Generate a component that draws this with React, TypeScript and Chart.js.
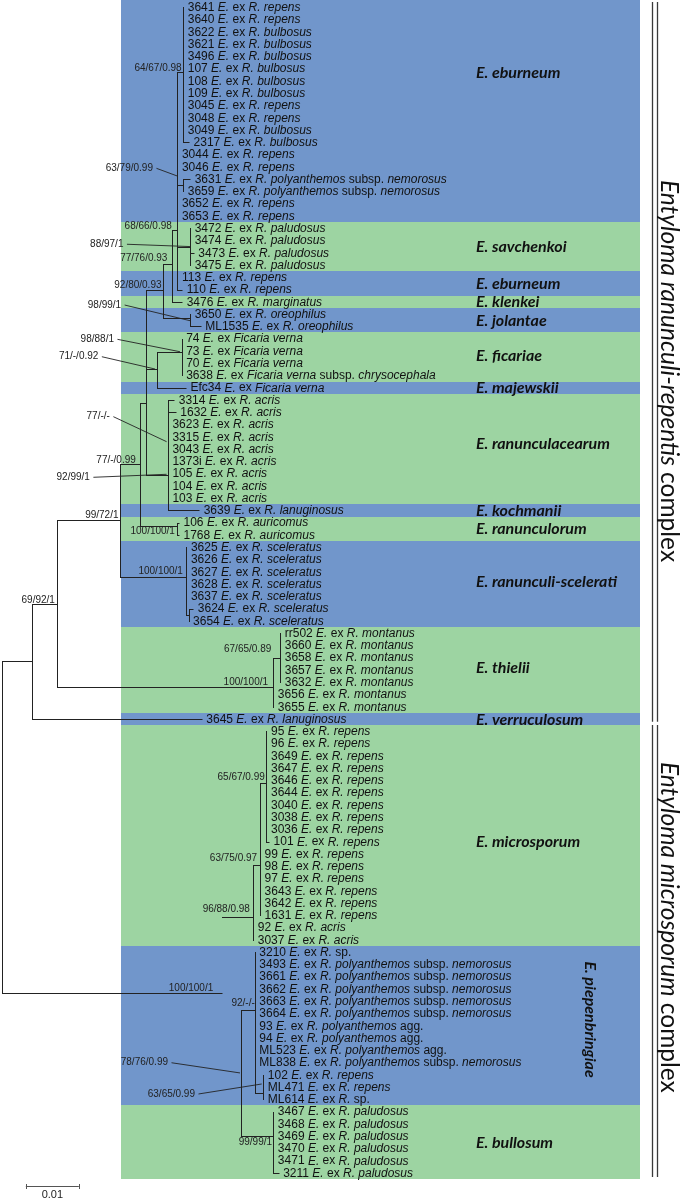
import React, { useEffect, useRef } from "react";
import { Chart, registerables } from "chart.js";
Chart.register(...registerables);

// ---------------- DATA ----------------
// leaves, top to bottom (row index = position in list)
const leafIds = [
  "3641", "3640", "3622", "3621", "3496", "107", "108", "109", "3045", "3048", "3049", "2317", "3044", "3046", "3631", "3659", "3652", "3653",
  "3472", "3474", "3473", "3475", "113", "110", "3476", "3650", "ML1535", "74", "73", "70", "3638", "Efc34",
  "3314", "1632", "3623", "3315", "3043", "1373i", "105", "104", "103", "3639", "106", "1768",
  "3625", "3626", "3627", "3628", "3637", "3624", "3654",
  "rr502", "3660", "3658", "3657", "3632", "3656", "3655", "3645",
  "95", "96", "3649", "3647", "3646", "3644", "3040", "3038", "3036", "101", "99", "98", "97", "3643", "3642", "1631", "92", "3037",
  "3210", "3493", "3661", "3662", "3663", "3664", "93", "94", "ML523", "ML838", "102", "ML471", "ML614",
  "3467", "3468", "3469", "3470", "3471", "3211",
];

const leafHosts = [
  "R. repens", "R. repens", "R. bulbosus", "R. bulbosus", "R. bulbosus", "R. bulbosus", "R. bulbosus", "R. bulbosus",
  "R. repens", "R. repens", "R. bulbosus", "R. bulbosus", "R. repens", "R. repens",
  "R. polyanthemos subsp. nemorosus", "R. polyanthemos subsp. nemorosus", "R. repens", "R. repens",
  "R. paludosus", "R. paludosus", "R. paludosus", "R. paludosus", "R. repens", "R. repens", "R. marginatus",
  "R. oreophilus", "R. oreophilus", "Ficaria verna", "Ficaria verna", "Ficaria verna",
  "Ficaria verna subsp. chrysocephala", "Ficaria verna",
  "R. acris", "R. acris", "R. acris", "R. acris", "R. acris", "R. acris", "R. acris", "R. acris", "R. acris",
  "R. lanuginosus", "R. auricomus", "R. auricomus",
  "R. sceleratus", "R. sceleratus", "R. sceleratus", "R. sceleratus", "R. sceleratus", "R. sceleratus", "R. sceleratus",
  "R. montanus", "R. montanus", "R. montanus", "R. montanus", "R. montanus", "R. montanus", "R. montanus",
  "R. lanuginosus",
  "R. repens", "R. repens", "R. repens", "R. repens", "R. repens", "R. repens", "R. repens", "R. repens",
  "R. repens", "R. repens", "R. repens", "R. repens", "R. repens", "R. repens", "R. repens", "R. repens",
  "R. acris", "R. acris",
  "R. sp.", "R. polyanthemos subsp. nemorosus", "R. polyanthemos subsp. nemorosus", "R. polyanthemos subsp. nemorosus",
  "R. polyanthemos subsp. nemorosus", "R. polyanthemos subsp. nemorosus", "R. polyanthemos agg.", "R. polyanthemos agg.",
  "R. polyanthemos agg.", "R. polyanthemos subsp. nemorosus", "R. repens", "R. repens", "R. sp.",
  "R. paludosus", "R. paludosus", "R. paludosus", "R. paludosus", "R. paludosus", "R. paludosus",
];

// distance of each leaf tip from the root (substitutions/site)
const leafTip = [
  0.0342, 0.0342, 0.0342, 0.0342, 0.0342, 0.0342, 0.0342, 0.0342, 0.0342, 0.0342, 0.0342, 0.0353,
  0.0331, 0.0331, 0.0355, 0.0342, 0.0331, 0.0331,
  0.0355, 0.0355, 0.0362, 0.0355, 0.0331, 0.034, 0.034, 0.0355, 0.0375,
  0.0339, 0.0339, 0.0339, 0.0339, 0.0347,
  0.0325, 0.0328, 0.0313, 0.0313, 0.0313, 0.0313, 0.0313, 0.0313, 0.0313, 0.0372, 0.0334, 0.0334,
  0.0348, 0.0348, 0.0348, 0.0348, 0.0348, 0.0361, 0.0352,
  0.0525, 0.0525, 0.0525, 0.0525, 0.0525, 0.0512, 0.0512, 0.0377,
  0.0499, 0.0499, 0.0499, 0.0499, 0.0499, 0.0499, 0.0499, 0.0499, 0.0499, 0.0504,
  0.0487, 0.0487, 0.0487, 0.0487, 0.0487, 0.0487, 0.0474, 0.0474,
  0.0477, 0.0477, 0.0477, 0.0477, 0.0477, 0.0477, 0.0477, 0.0477, 0.0477, 0.0477, 0.0493, 0.0493, 0.0493,
  0.0512, 0.0512, 0.0512, 0.0512, 0.0512, 0.0522,
];

const leafParent = [
  "N64", "N64", "N64", "N64", "N64", "N64", "N64", "N64", "N64", "N64", "N64", "N64",
  "EB", "EB", "NEM", "NEM", "EB", "EB",
  "SAV", "SAV", "SAV", "SAV", "EB", "EB", "B", "JOL", "JOL",
  "FIC", "FIC", "FIC", "FIC", "E",
  "G", "G", "G", "G", "G", "G", "G", "G", "G", "G", "RO", "RO",
  "SC", "SC", "SC", "SC", "SC", "SC1", "SC1",
  "T1", "T1", "T1", "T1", "T1", "T", "T", "K",
  "M1", "M1", "M1", "M1", "M1", "M1", "M1", "M1", "M1", "M1",
  "M2", "M2", "M2", "M2", "M2", "M2", "M", "M",
  "P", "P", "P", "P", "P", "P", "P", "P", "P", "P", "P1", "P1", "P1",
  "Q", "Q", "Q", "Q", "Q", "Q",
];

// internal nodes: depth (subst./site) and row position where the stem joins
const nodeNames = ["ROOT", "K", "J", "I", "H", "D", "C", "B", "EB", "N64", "NEM", "SAV", "JOL", "E", "FIC", "G", "RO", "SC", "SC1", "T", "T1", "L", "M", "M2", "M1", "N", "P", "P1", "Q"];
const nodeX = [0, 0.0057, 0.0103, 0.0223, 0.026, 0.0271, 0.0304, 0.032, 0.0331, 0.0342, 0.0342, 0.0355, 0.0355, 0.0292, 0.0339, 0.0313, 0.0331, 0.0347, 0.0352, 0.0512, 0.0525, 0.0415, 0.0474, 0.0487, 0.0499, 0.045, 0.0477, 0.0493, 0.0512];
const nodeY = [66.8, 53.3, 48.6, 41.8, 37.2, 32.25, 23.04, 20.92, 18.15, 5.25, 14.5, 19.5, 25.3, 29.48, 28.07, 38.1, 42.3, 46.4, 49.5, 55.4, 53, 80.35, 74.1, 69.9, 63.2, 86.85, 81.7, 88.5, 92];
const nodeParent = ["", "ROOT", "K", "J", "I", "H", "D", "C", "B", "EB", "EB", "EB", "C", "D", "E", "D", "H", "I", "SC", "J", "T", "ROOT", "L", "M", "M2", "N", "N", "P", "N"];

// support values (ML bootstrap / MP bootstrap / posterior probability)
const supportText = [
  "64/67/0.98", "63/79/0.99", "68/66/0.98", "88/97/1", "77/76/0.93", "92/80/0.93", "98/99/1", "98/88/1", "71/-/0.92",
  "77/-/-", "92/99/1", "77/-/0.99", "99/72/1", "100/100/1", "100/100/1", "69/92/1", "67/65/0.89", "100/100/1",
  "65/67/0.99", "63/75/0.97", "96/88/0.98", "100/100/1", "92/-/-", "78/76/0.99", "63/65/0.99", "99/99/1",
];
const supportNode = [
  "N64", "NEM", "EB", "SAV", "B", "C", "JOL", "FIC", "E",
  "G", "G", "H", "I", "RO", "SC", "J", "T1", "T",
  "M1", "M2", "M", "L", "P", "N", "P1", "Q",
];

// bands (clade shading)
const bandStart = [0, 18, 22, 24, 25, 27, 31, 32, 41, 42, 44, 51, 58, 59, 77, 90];
const bandEnd = [17, 21, 23, 24, 26, 30, 31, 40, 41, 43, 50, 57, 58, 76, 89, 95];
const bandKind = [0, 1, 0, 1, 0, 1, 0, 1, 0, 1, 0, 1, 0, 1, 0, 1];

const cladeNames = [
  "E. eburneum", "E. savchenkoi", "E. eburneum", "E. klenkei", "E. jolantae", "E. ficariae", "E. majewskii",
  "E. ranunculacearum", "E. kochmanii", "E. ranunculorum", "E. ranunculi-scelerati", "E. thielii",
  "E. verruculosum", "E. microsporum", "E. piepenbringiae", "E. bullosum",
];
const cladeRows = [5.3, 19.5, 22.5, 24, 25.5, 28.4, 31, 35.5, 41, 42.5, 46.8, 53.8, 58, 68, 82.5, 92.5];

const complexNames = ["Entyloma ranunculi-repentis", "Entyloma microsporum"];
const complexRowSpan = [[-0.43, 58.22], [58.49, 95.33]];

const scaleBarLength = 0.01;
const scaleBarLabel = "0.01";

// ---------------- LAYOUT / STYLE ----------------
const W = 684, H = 1198;
const PX_PER_UNIT = 5300, ROOT_PX = 2, ROW0_PX = 7.3, ROW_PX = 12.27;
const BAND_LEFT = 121, BAND_RIGHT = 640;
const BAND_COLORS = ["#7196cb", "#9dd4a2"];
const LINE = "#222";
const SANS = '"Liberation Sans", Arial, sans-serif';
const CAL = 'Lato, "Open Sans", sans-serif';
const LABEL_GAP = 4.5;
const CLADE_X = 476;
const VERTICAL_CLADE = "E. piepenbringiae";
const VERTICAL_CLADE_X = 585;
const BRACKET_X = [652.5, 657.5];
const COMPLEX_TEXT_X = 661;
const COMPLEX_FONT = 24.5;
const COMPLEX_TEXT_ROW = [14.07, 61.5];
const SCALE_BAR_START = 0.0045;
const SCALE_BAR_ROW = 96.1;
// support label placement: [dx, dy] of text right/centre from node point; optional leader target [tx, ty]
const supportLayout: number[][] = [
  [-1.6, -3.4], [-30.3, -16.9, -6, -9.2], [-5.6, -4], [-66.7, -2.3, 0, 0], [-4.2, -5.7], [-1.6, -5],
  [-69, -12.7, 0, 3], [-67.7, -12.4, -1.7, 0], [-58.4, -12.3, -1.7, 0],
  [-58, -58.1, -1.3, -33.1], [-78, 2.5, -1.3, -0.5], [-4, -3.7], [-1.7, -5.2], [-2.5, 5.4], [-3, -4.9],
  [-1.7, -3.6], [-9, -8], [-5.3, -4.4], [-1.7, -5.5], [-3, -6.7], [-3.3, -7.2], [-8.7, -4.9], [0, -6.5],
  [-72.5, -10.2, -0.5, 0], [-68.3, 0.8, -1.6, -9.2], [-1.3, 6.6],
];

const PLAIN = new Set(["subsp.", "agg.", "sp.", "ex"]);

function drawLeafLabel(ctx: CanvasRenderingContext2D, x: number, y: number, id: string, host: string) {
  const segs: { t: string; it: boolean }[] = [
    { t: id + " ", it: false },
    { t: "E.", it: true },
    { t: " ex ", it: false },
  ];
  const words = host.split(" ");
  words.forEach((w, i) => {
    segs.push({ t: w, it: !PLAIN.has(w) });
    if (i < words.length - 1) segs.push({ t: " ", it: false });
  });
  let cx = x;
  for (const s of segs) {
    ctx.font = (s.it ? "italic " : "") + "12px " + SANS;
    ctx.fillText(s.t, cx, y);
    cx += ctx.measureText(s.t).width;
  }
}

const phyloPlugin = {
  id: "phylo",
  beforeDatasetsDraw(chart: any) {
    const ctx: CanvasRenderingContext2D = chart.ctx;
    const xs = chart.scales.x, ys = chart.scales.y;
    const X = (v: number) => xs.getPixelForValue(v);
    const Y = (r: number) => ys.getPixelForValue(r);
    const crisp = (p: number) => Math.round(p) + 0.5;
    ctx.save();

    // shaded clade bands
    for (let i = 0; i < bandStart.length; i++) {
      const top = Math.round(Y(i === 0 ? -0.6 : bandStart[i] - 0.5));
      const bot = Math.round(Y(bandEnd[i] + 0.5));
      ctx.fillStyle = BAND_COLORS[bandKind[i]];
      ctx.fillRect(BAND_LEFT, top, BAND_RIGHT - BAND_LEFT, bot - top);
    }

    // tree branches
    const idx: Record<string, number> = {};
    nodeNames.forEach((n, i) => (idx[n] = i));
    const kidRows: number[][] = nodeNames.map(() => []);
    nodeParent.forEach((p, i) => { if (p) kidRows[idx[p]].push(nodeY[i]); });
    leafParent.forEach((p, i) => kidRows[idx[p]].push(i));

    ctx.strokeStyle = LINE;
    ctx.lineWidth = 1;
    ctx.beginPath();
    nodeNames.forEach((_, i) => {
      const rows = kidRows[i];
      const lo = Math.min(...rows), hi = Math.max(...rows);
      const x = crisp(X(nodeX[i]));
      ctx.moveTo(x, crisp(Y(lo)) - 0.5);
      ctx.lineTo(x, crisp(Y(hi)) + 0.5);
      const p = nodeParent[i];
      if (p) {
        const yy = crisp(Y(nodeY[i]));
        ctx.moveTo(crisp(X(nodeX[idx[p]])), yy);
        ctx.lineTo(crisp(X(nodeX[i])), yy);
      }
    });
    leafParent.forEach((p, i) => {
      const px0 = crisp(X(nodeX[idx[p]]));
      const px1 = X(leafTip[i]);
      if (px1 - px0 > 1) {
        const yy = crisp(Y(i));
        ctx.moveTo(px0, yy);
        ctx.lineTo(Math.round(px1) + 0.5, yy);
      }
    });
    ctx.stroke();

    // leaf labels
    ctx.fillStyle = "#111";
    ctx.textBaseline = "middle";
    ctx.textAlign = "left";
    leafIds.forEach((id, i) => {
      drawLeafLabel(ctx, X(leafTip[i]) + LABEL_GAP, Y(i) + 0.5, id, leafHosts[i]);
    });

    // support values
    ctx.font = "10px " + SANS;
    ctx.textAlign = "right";
    ctx.fillStyle = "#222";
    ctx.lineWidth = 0.9;
    ctx.beginPath();
    supportText.forEach((t, i) => {
      const n = idx[supportNode[i]];
      const nx = X(nodeX[n]), ny = Y(nodeY[n]);
      const L = supportLayout[i];
      const tx = nx + L[0], ty = ny + L[1];
      ctx.fillText(t, tx, ty);
      if (L.length > 2) {
        ctx.moveTo(tx + 3.5, ty);
        ctx.lineTo(nx + L[2], ny + L[3]);
      }
    });
    ctx.stroke();

    // clade names
    ctx.fillStyle = "#111";
    ctx.textAlign = "left";
    ctx.font = "italic bold 16px " + CAL;
    cladeNames.forEach((n, i) => {
      if (n === VERTICAL_CLADE) {
        ctx.save();
        ctx.translate(VERTICAL_CLADE_X, Y(cladeRows[i]));
        ctx.rotate(Math.PI / 2);
        ctx.textAlign = "center";
        ctx.textBaseline = "alphabetic";
        ctx.fillText(n, 0, 0);
        ctx.restore();
      } else {
        ctx.fillText(n, CLADE_X, Y(cladeRows[i]) + 0.5);
      }
    });

    // complex brackets + names
    ctx.strokeStyle = "#3a3a3a";
    ctx.lineWidth = 1.3;
    ctx.beginPath();
    complexRowSpan.forEach(([a, b]) => {
      BRACKET_X.forEach((bx) => {
        ctx.moveTo(bx, Y(a));
        ctx.lineTo(bx, Y(b));
      });
    });
    ctx.stroke();
    ctx.fillStyle = "#111";
    complexNames.forEach((n, i) => {
      ctx.save();
      ctx.translate(COMPLEX_TEXT_X, Y(COMPLEX_TEXT_ROW[i]));
      ctx.rotate(Math.PI / 2);
      ctx.textAlign = "left";
      ctx.textBaseline = "alphabetic";
      ctx.font = "italic " + COMPLEX_FONT + "px " + CAL;
      ctx.fillText(n, 0, 0);
      const w = ctx.measureText(n).width;
      ctx.font = COMPLEX_FONT + "px " + CAL;
      ctx.fillText(" complex", w, 0);
      ctx.restore();
    });

    // scale bar
    const sy = crisp(Y(SCALE_BAR_ROW));
    const sx0 = X(SCALE_BAR_START), sx1 = X(SCALE_BAR_START + scaleBarLength);
    ctx.strokeStyle = "#555";
    ctx.lineWidth = 1;
    ctx.beginPath();
    ctx.moveTo(sx0, sy); ctx.lineTo(sx1, sy);
    ctx.moveTo(crisp(sx0), sy - 2.5); ctx.lineTo(crisp(sx0), sy + 2.5);
    ctx.moveTo(crisp(sx1), sy - 2.5); ctx.lineTo(crisp(sx1), sy + 2.5);
    ctx.stroke();
    ctx.fillStyle = "#222";
    ctx.font = "11px " + SANS;
    ctx.textAlign = "center";
    ctx.textBaseline = "middle";
    ctx.fillText(scaleBarLabel, (sx0 + sx1) / 2, sy + 8);

    ctx.restore();
  },
};

export default function App() {
  const ref = useRef<HTMLCanvasElement>(null);
  useEffect(() => {
    document.body.style.margin = "0";
    document.body.style.overflow = "hidden";
    const canvas = ref.current!;
    const chart = new Chart(canvas, {
      type: "scatter",
      data: {
        datasets: [
          {
            data: leafIds.map((_, i) => ({ x: leafTip[i], y: i })),
            pointRadius: 0,
            showLine: false,
          },
        ],
      },
      options: {
        animation: false,
        responsive: false,
        devicePixelRatio: 1,
        events: [],
        layout: { padding: 0 },
        plugins: { legend: { display: false }, tooltip: { enabled: false } },
        scales: {
          x: { type: "linear", display: false, min: -ROOT_PX / PX_PER_UNIT, max: (W - ROOT_PX) / PX_PER_UNIT },
          y: { type: "linear", display: false, reverse: true, min: -ROW0_PX / ROW_PX, max: (H - ROW0_PX) / ROW_PX },
        },
      },
      plugins: [phyloPlugin],
    } as any);
    return () => chart.destroy();
  }, []);
  return (
    <div style={{ position: "absolute", left: 0, top: 0, width: W, height: H, background: "#fff" }}>
      <canvas ref={ref} width={W} height={H} style={{ width: W, height: H, display: "block" }} />
    </div>
  );
}
